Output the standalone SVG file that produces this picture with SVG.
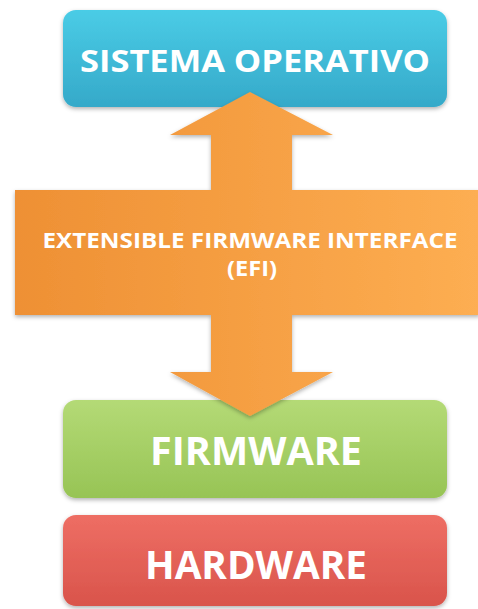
<svg xmlns="http://www.w3.org/2000/svg" width="478" height="609" viewBox="0 0 478 609">
<defs>
<linearGradient id="gBlue" x1="0" y1="0" x2="0" y2="1"><stop offset="0" stop-color="#4ACCE6"/><stop offset="1" stop-color="#35A9C9"/></linearGradient>
<linearGradient id="gGreen" x1="0" y1="0" x2="0" y2="1"><stop offset="0" stop-color="#B4DA76"/><stop offset="1" stop-color="#97C455"/></linearGradient>
<linearGradient id="gRed" x1="0" y1="0" x2="0" y2="1"><stop offset="0" stop-color="#EE6E64"/><stop offset="1" stop-color="#D9544B"/></linearGradient>
<linearGradient id="gOrange" x1="0" y1="0" x2="1" y2="0"><stop offset="0" stop-color="#EE9034"/><stop offset="1" stop-color="#FDAE52"/></linearGradient>
<filter id="sh" x="-10%" y="-10%" width="120%" height="130%"><feDropShadow dx="0" dy="2" stdDeviation="2" flood-color="#000" flood-opacity="0.3"/></filter>
</defs>
<style>
.t{font-family:"Open Sans","Liberation Sans",sans-serif;font-weight:bold;fill:#FFFFFF;text-anchor:middle}
</style>
<rect width="478" height="609" fill="#FFFFFF"/>
<g id="sistema">
<rect x="63" y="10" width="384" height="97" rx="13" fill="url(#gBlue)" filter="url(#sh)"/>
<text class="t" x="255" y="72" font-size="31" textLength="350" lengthAdjust="spacingAndGlyphs">SISTEMA OPERATIVO</text>
</g>
<g id="firmware">
<rect x="63" y="400" width="384" height="98" rx="13" fill="url(#gGreen)" filter="url(#sh)"/>
<text class="t" x="256" y="465" font-size="39" textLength="212" lengthAdjust="spacingAndGlyphs">FIRMWARE</text>
</g>
<g id="hardware">
<rect x="63" y="515" width="384" height="91" rx="13" fill="url(#gRed)" filter="url(#sh)"/>
<text class="t" x="256" y="579" font-size="39" textLength="222" lengthAdjust="spacingAndGlyphs">HARDWARE</text>
</g>
<g id="connectors">
<g id="efi">
<polygon points="250,92 333,135 292,135 292,190 480,190 480,315 292,315 292,372 333,372 250,416 170,372 211,372 211,315 15,315 15,190 211,190 211,135 170,135" fill="url(#gOrange)" filter="url(#sh)"/>
<text class="t" x="250" y="248" font-size="22" textLength="415" lengthAdjust="spacingAndGlyphs">EXTENSIBLE FIRMWARE INTERFACE</text>
<text class="t" x="252" y="276" font-size="22" textLength="50" lengthAdjust="spacingAndGlyphs">(EFI)</text>
</g>
</g>
</svg>
